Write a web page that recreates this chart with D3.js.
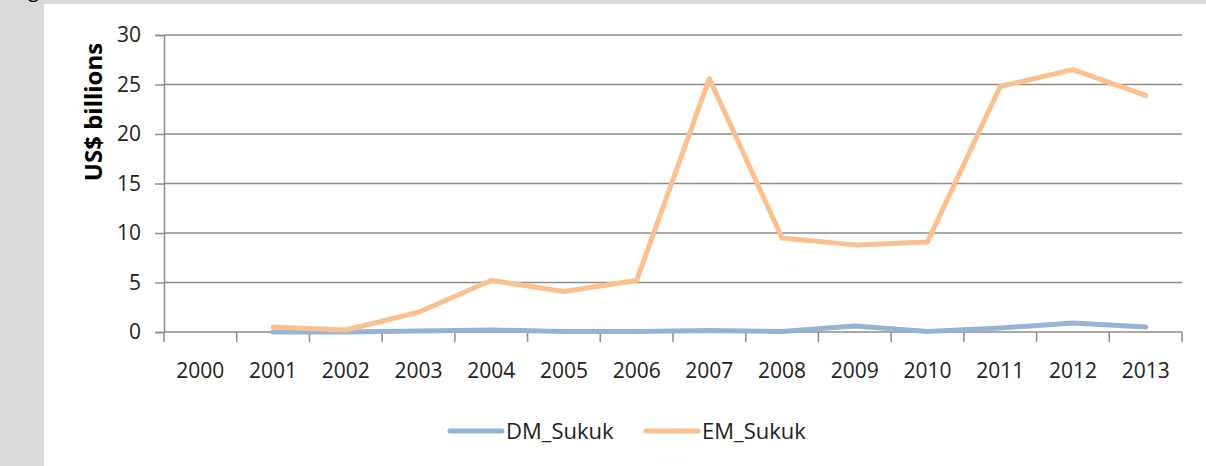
<!DOCTYPE html>
<html>
<head>
<meta charset="utf-8">
<script src="https://cdn.jsdelivr.net/npm/d3@7"></script>
<style>
  html, body { margin: 0; padding: 0; background: #d9d9d9; }
  #viz { width: 1206px; height: 466px; }
</style>
</head>
<body>
<div id="viz"></div>
<script>
// categories and series
const years = ["2000", "2001", "2002", "2003", "2004", "2005", "2006", "2007", "2008", "2009", "2010", "2011", "2012", "2013"];
const dmSukuk = [null, 0.0, 0.0, 0.1, 0.2, 0.05, 0.05, 0.15, 0.05, 0.6, 0.05, 0.4, 0.9, 0.5];
const emSukuk = [null, 0.5, 0.2, 2.0, 5.2, 4.1, 5.2, 25.6, 9.5, 8.8, 9.1, 24.8, 26.5, 23.9];
const yTicks = [0, 5, 10, 15, 20, 25, 30];
const seriesNames = ["DM_Sukuk", "EM_Sukuk"];

function renderChart(d3) {
    const mount = document.getElementById("viz");
    const width = 1206, height = 466;
    const FONT = "'Open Sans', 'Liberation Sans', sans-serif";
    const GRID = "#8c8c8c";
    const colors = ["#95b3d7", "#fac090"];

    const svg = d3.select(mount).append("svg")
        .attr("width", width)
        .attr("height", height)
        .style("display", "block");

    // white chart panel over the grey page
    svg.append("rect")
        .attr("x", 44).attr("y", 4)
        .attr("width", width - 44).attr("height", height - 4)
        .attr("fill", "#fff");

    // fragment of a caption cut at the top-left corner
    svg.append("text")
        .attr("x", 28).attr("y", -3)
        .attr("font-family", FONT).attr("font-size", 20)
        .attr("fill", "#000")
        .text("g");

    const m = { left: 164, right: 1182, top: 35, bottom: 332 };

    const x = d3.scaleBand().domain(years).range([m.left, m.right]);
    const y = d3.scaleLinear().domain([0, 30]).range([m.bottom, m.top]);

    // gridlines
    svg.append("g")
        .selectAll("line")
        .data(yTicks.filter(d => d > 0))
        .join("line")
        .attr("x1", m.left).attr("x2", m.right)
        .attr("y1", d => y(d)).attr("y2", d => y(d))
        .attr("stroke", GRID).attr("stroke-width", 1.5);

    // y axis
    const yAxis = svg.append("g")
        .attr("transform", `translate(${m.left},0)`)
        .call(d3.axisLeft(y).tickValues(yTicks).tickSize(9).tickPadding(14));
    yAxis.select(".domain").attr("stroke", GRID).attr("stroke-width", 1.5);
    yAxis.selectAll(".tick line").attr("stroke", GRID).attr("stroke-width", 1.5);
    yAxis.selectAll("text")
        .attr("font-family", FONT).attr("font-size", 21).attr("fill", "#222");

    // x axis: ticks at category boundaries
    const xAxis = svg.append("g")
        .attr("transform", `translate(0,${m.bottom})`);
    xAxis.append("line")
        .attr("x1", m.left).attr("x2", m.right)
        .attr("stroke", GRID).attr("stroke-width", 1.5);
    const bounds = years.map(d => x(d)).concat([x(years[years.length - 1]) + x.bandwidth()]);
    xAxis.selectAll(".xtick")
        .data(bounds)
        .join("line")
        .attr("class", "xtick")
        .attr("x1", d => d).attr("x2", d => d)
        .attr("y1", 0).attr("y2", 10)
        .attr("stroke", GRID).attr("stroke-width", 1.5);
    xAxis.selectAll("text")
        .data(years)
        .join("text")
        .attr("x", d => x(d) + x.bandwidth() / 2)
        .attr("y", 46)
        .attr("text-anchor", "middle")
        .attr("font-family", FONT).attr("font-size", 21).attr("fill", "#222")
        .text(d => d);

    // y axis title
    svg.append("text")
        .attr("transform", `translate(102,${112}) rotate(-90)`)
        .attr("text-anchor", "middle")
        .attr("font-family", FONT).attr("font-size", 24).attr("font-weight", "bold")
        .attr("fill", "#000")
        .text("US$ billions");

    // lines
    const line = d3.line()
        .defined(d => d[1] != null)
        .x(d => x(d[0]) + x.bandwidth() / 2)
        .y(d => y(d[1]));

    [dmSukuk, emSukuk].forEach((vals, i) => {
        svg.append("path")
            .datum(years.map((yr, j) => [yr, vals[j]]))
            .attr("fill", "none")
            .attr("stroke", colors[i])
            .attr("stroke-width", 5)
            .attr("stroke-linejoin", "round")
            .attr("stroke-linecap", "round")
            .attr("d", line);
    });

    // legend
    const legendX = [450, 646];
    const legend = svg.append("g");
    seriesNames.forEach((name, i) => {
        legend.append("line")
            .attr("x1", legendX[i]).attr("x2", legendX[i] + 52)
            .attr("y1", 431).attr("y2", 431)
            .attr("stroke", colors[i]).attr("stroke-width", 5)
            .attr("stroke-linecap", "round");
        legend.append("text")
            .attr("x", legendX[i] + 56).attr("y", 439)
            .attr("font-family", FONT).attr("font-size", 22).attr("fill", "#222")
            .text(name);
    });
}

renderChart(d3);
</script>
</body>
</html>
